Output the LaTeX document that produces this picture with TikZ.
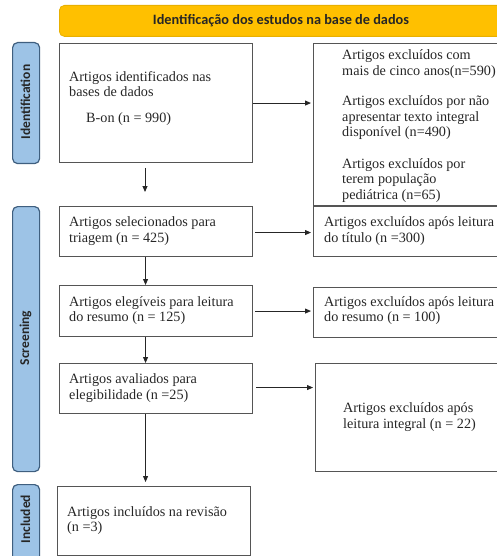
\documentclass[tikz,border=0pt]{standalone}
\usepackage{fontspec}
\setmainfont{Liberation Serif}
\newfontfamily\carl{Carlito}
\usetikzlibrary{arrows.meta}
\definecolor{gold}{HTML}{FFC000}
\definecolor{goldedge}{HTML}{E8B000}
\definecolor{sideblue}{HTML}{9DC3E6}
\definecolor{sideedge}{HTML}{3F5F7F}
\definecolor{boxedge}{HTML}{555555}
\begin{document}
\begin{tikzpicture}[x=1pt,y=-1pt,
  box/.style={draw=boxedge,line width=1.1pt,anchor=north west,inner sep=0pt},
  side/.style={draw=sideedge,fill=sideblue,line width=1.2pt,rounded corners=5pt,anchor=north west,inner sep=0pt,minimum width=27pt},
  sidelabel/.style={rotate=90,font=\carl\bfseries\fontsize{13.5}{15}\selectfont,text=black!85},
  txt/.style={anchor=west,align=left,inner sep=0pt,font=\fontsize{14.2}{15.5}\selectfont,text=black!85},
  arr/.style={-{Triangle[length=6pt,width=5pt]},line width=0.9pt,draw=black!85}]
\useasboundingbox (0,0) rectangle (497,556);
\clip (0,0) rectangle (497,556);
% banner
\node[draw=goldedge,fill=gold,rounded corners=5pt,line width=0.8pt,anchor=north west,minimum width=460pt,minimum height=31pt] (ban) at (59,5) {};
\node[font=\carl\bfseries\fontsize{14.3}{16}\selectfont,text=black!85] (bant) at (281,21) {Identificação dos estudos na base de dados};
% sidebars
\node[side,minimum height=121pt] (s1) at (12,42) {};
\node[sidelabel] (s1t) at (25.5,102) {Identification};
\node[side,minimum height=265pt] (s2) at (12,206) {};
\node[sidelabel] (s2t) at (25.5,338) {Screening};
\node[side,minimum height=80pt] (s3) at (12,484) {};
\node[sidelabel] (s3t) at (25.5,519) {Included};
% left boxes
\node[box,minimum width=193pt,minimum height=119pt] (b1) at (59,43) {};
\node[box,minimum width=193pt,minimum height=50pt] (b2) at (59,206) {};
\node[box,minimum width=193pt,minimum height=51pt] (b3) at (59,285) {};
\node[box,minimum width=193pt,minimum height=50pt] (b4) at (59,363) {};
\node[box,minimum width=193pt,minimum height=69pt] (b5) at (57,486) {};
% right boxes
\node[box,minimum width=200pt,minimum height=162pt] (r1) at (313,43) {};
\node[box,minimum width=200pt,minimum height=50pt] (r2) at (313,206) {};
\node[box,minimum width=200pt,minimum height=50pt] (r3) at (313,287) {};
\node[box,minimum width=200pt,minimum height=108pt] (r4) at (315,363) {};
% texts
\node[txt] (t1) at (69,84) {Artigos identificados nas\\bases de dados};
\node[txt] (t1b) at (86,119) {B-on (n = 990)};
\node[txt] (tr1) at (342,126) {Artigos excluídos com\\mais de cinco anos(n=590)\\[15pt]Artigos excluídos por não\\apresentar texto integral\\disponível (n=490)\\[16pt]Artigos excluídos por\\terem população\\pediátrica (n=65)};
\node[txt] (t2) at (69,231) {Artigos selecionados para\\triagem (n = 425)};
\node[txt] (tr2) at (324,231) {Artigos excluídos após leitura\\do título (n =300)};
\node[txt] (t3) at (69,310.5) {Artigos elegíveis para leitura\\do resumo (n = 125)};
\node[txt] (tr3) at (324,310.5) {Artigos excluídos após leitura\\do resumo (n = 100)};
\node[txt] (t4) at (69,388) {Artigos avaliados para\\elegibilidade (n =25)};
\node[txt] (tr4) at (343,417) {Artigos excluídos após\\leitura integral (n = 22)};
\node[txt] (t5) at (67,520.5) {Artigos incluídos na revisão\\(n =3)};
% arrows
\coordinate (d1s) at (145,168);
\coordinate (d1e) at (145,192);
\draw[arr] (d1s) -- (d1e);
\draw[arr] ([xshift=-10.5pt]b2.south) -- ([xshift=-10.5pt]b3.north);
\draw[arr] ([xshift=-10.5pt]b3.south) -- ([xshift=-10.5pt]b4.north);
\draw[arr,shorten >=4pt] ([xshift=-10.5pt]b4.south) -- ([xshift=-10.5pt]b4.south |- b5.north);
\draw[arr,shorten >=2pt] (b1.east) -- (b1.east -| r1.west);
\draw[arr,shorten >=2pt,shorten <=2pt] ([yshift=-1pt]b2.east) -- ([yshift=-1pt]b2.east -| r2.west);
\draw[arr,shorten >=2pt,shorten <=2pt] (b3.east) -- (b3.east -| r3.west);
\draw[arr,shorten >=2pt,shorten <=3pt] ([yshift=1pt]b4.east) -- ([yshift=1pt]b4.east -| r4.west);
\end{tikzpicture}
\end{document}
